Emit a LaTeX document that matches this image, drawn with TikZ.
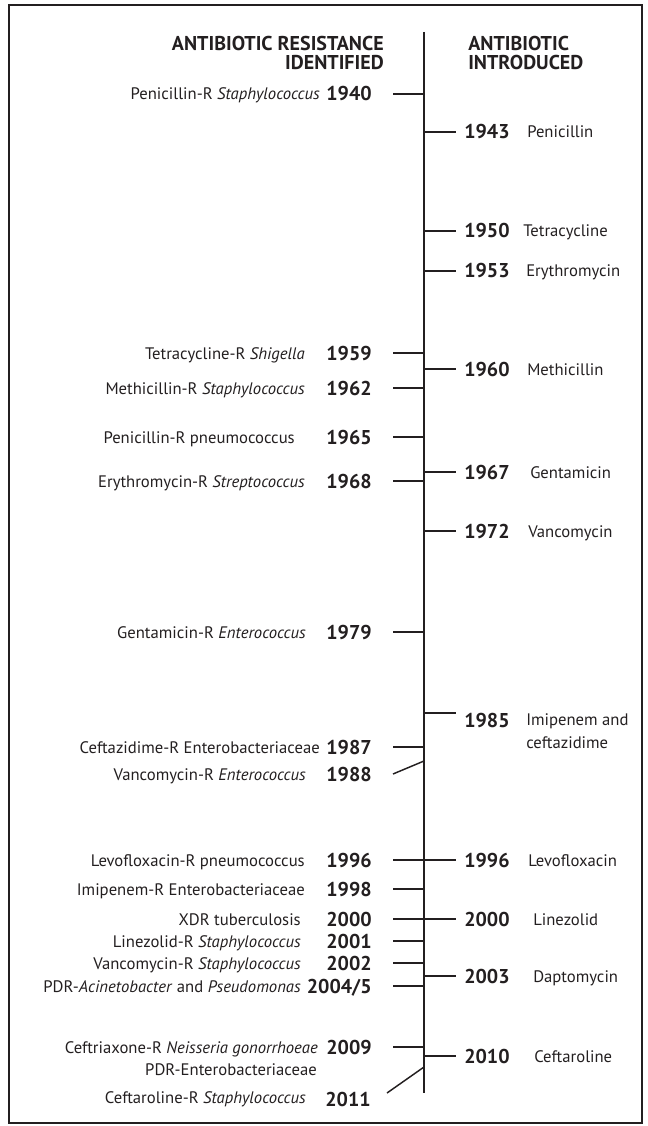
\documentclass[tikz,border=0pt]{standalone}
\usepackage{fontspec}
\setmainfont{PT Sans}
\definecolor{ink}{HTML}{231F20}
\tikzset{
  rule/.style={draw=ink, line width=1.1pt},
  leftlab/.style={font=\fontsize{12.5}{15}\selectfont, text=ink, inner sep=0pt, anchor=base east, yshift=-4.5pt},
  rightlab/.style={leftlab, anchor=base west},
  yearlab/.style={font=\fontsize{15}{16}\selectfont\bfseries, text=ink, inner sep=0pt, anchor=base east, yshift=-5.25pt},
  yearright/.style={yearlab, anchor=base west},
  headlab/.style={font=\fontsize{15}{14.25}\selectfont\bfseries, text=ink, inner sep=0pt}
}
\begin{document}
\begin{tikzpicture}[x=0.75pt, y=-0.75pt]
  \useasboundingbox (0,0) rectangle (647,1126);
  \draw[draw=ink, line width=1.5pt] (9,5.5) rectangle (642,1123);
  % column heads (base sits on the last line)
  \node[headlab, anchor=base east, align=right] (headL) at (384,70) {ANTIBIOTIC RESISTANCE\\IDENTIFIED};
  \node[headlab, anchor=base west, align=left] (headR) at (468,70) {ANTIBIOTIC\\INTRODUCED};
  % time axis
  \coordinate (top) at (424,32);
  \coordinate (bot) at (424,1093);
  \draw[rule] (top) -- (bot);
  % resistance identified (left)
  \foreach \yr/\y/\lx/\lab [count=\i] in {
    1940/94/320/{Penicillin-R \textit{Staphylococcus}},
    1959/353/305/{Tetracycline-R \textit{Shigella}},
    1962/388/305/{Methicillin-R \textit{Staphylococcus}},
    1965/437/295/{Penicillin-R pneumococcus},
    1968/481/305/{Erythromycin-R \textit{Streptococcus}},
    1979/632/306/{Gentamicin-R \textit{Enterococcus}},
    1987/747/320/{Ceftazidime-R Enterobacteriaceae},
    1996/860/305/{Levofloxacin-R pneumococcus},
    1998/889/305/{Imipenem-R Enterobacteriaceae},
    2000/919/301/{XDR tuberculosis},
    2001/941/301/{Linezolid-R \textit{Staphylococcus}},
    2002/963/301/{Vancomycin-R \textit{Staphylococcus}},
    {2004/5}/986/301/{PDR-\textit{Acinetobacter} and \textit{Pseudomonas}},
    2009/1047/318/{Ceftriaxone-R \textit{Neisseria gonorrhoeae}}}{
    \coordinate (la\i) at (424,\y);
    \coordinate (lt\i) at (393,\y);
    \draw[rule] (lt\i) -- (la\i);
    \node[yearlab] (ly\i) at (372,\y) {\yr};
    \node[leftlab] (ll\i) at (\lx,\y) {\lab};
  }
  \node[leftlab] (pdrE) at (317,1069) {PDR-Enterobacteriaceae};
  % slanted ticks where the labels crowd
  \coordinate (a1988) at (424,761);
  \coordinate (t1988) at (393,774);
  \draw[rule] (t1988) -- (a1988);
  \node[yearlab] (y1988) at (372,774) {1988};
  \node[leftlab] (l1988) at (306,774) {Vancomycin-R \textit{Enterococcus}};
  \coordinate (a2011) at (424,1067);
  \coordinate (t2011) at (387,1093);
  \draw[rule] (t2011) -- (a2011);
  \node[yearlab] (y2011) at (371,1099) {2011};
  \node[leftlab] (l2011) at (306,1097) {Ceftaroline-R \textit{Staphylococcus}};
  % antibiotic introduced (right)
  \foreach \yr/\y/\nx/\nm [count=\i] in {
    1943/132/527/Penicillin,
    1950/231/523/Tetracycline,
    1953/271/526/Erythromycin,
    1960/369/527/Methicillin,
    1967/472/530/Gentamicin,
    1972/531/528/Vancomycin,
    1996/860/528/Levofloxacin,
    2000/919/533/Linezolid,
    2003/976/533/Daptomycin,
    2010/1056/534/Ceftaroline}{
    \coordinate (ra\i) at (424,\y);
    \coordinate (rt\i) at (456,\y);
    \draw[rule] (ra\i) -- (rt\i);
    \node[yearright] (ry\i) at (464,\y) {\yr};
    \node[rightlab] (rn\i) at (\nx,\y) {\nm};
  }
  \coordinate (a1985) at (424,713);
  \coordinate (t1985) at (456,713);
  \draw[rule] (a1985) -- (t1985);
  \node[yearright] (y1985) at (464,720) {1985};
  \node[rightlab, align=left, font=\fontsize{12.5}{17.25}\selectfont] (n1985) at (526,742) {Imipenem and\\ceftazidime};
\end{tikzpicture}
\end{document}
